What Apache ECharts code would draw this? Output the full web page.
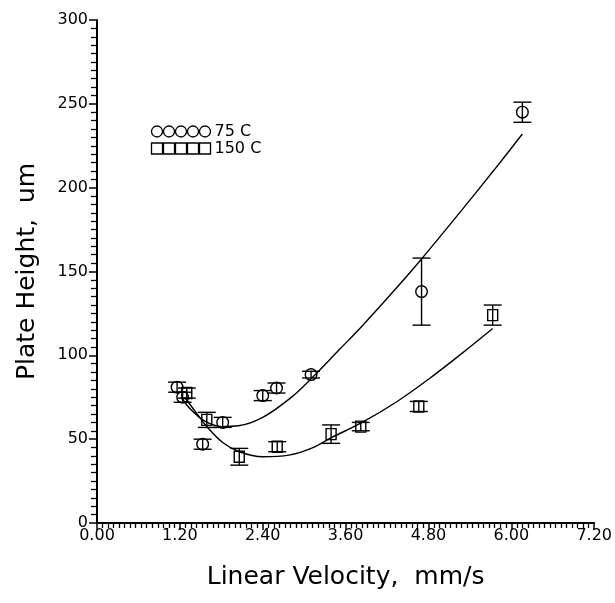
<!DOCTYPE html>
<html>
<head>
<meta charset="utf-8">
<script src="https://cdn.jsdelivr.net/npm/echarts@6/dist/echarts.min.js"></script>
<style>html,body{margin:0;padding:0;background:#fff;}#c{width:615px;height:603px;}</style>
</head>
<body>
<div id="c"></div>
<script>
// ---- data ----
const xTickLabels = ['0.00', '1.20', '2.40', '3.60', '4.80', '6.00', '7.20'];
const yTickLabels = ['0', '50', '100', '150', '200', '250', '300'];

// 75 C measurements (circles): x, y, error
const c75X   = [1.16, 1.24, 1.53, 1.82, 2.40, 2.60, 3.10, 4.70, 6.16];
const c75Y   = [81,   75,   47,   60,   76,   80.5, 88.5, 138,  245];
const c75Err = [3,    3,    3,    3,    3,    3,    2,    20,   6];

// 150 C measurements (squares): x, y, error
const c150X   = [1.30, 1.59, 2.06, 2.61, 3.39, 3.82, 4.66, 5.73];
const c150Y   = [77.5, 61.5, 39.5, 45.5, 53,   57.5, 69.5, 124];
const c150Err = [3,    4.5,  5,    3,    5.5,  2.5,  3,    6];

// fitted curves
const fit75X  = [1.22, 1.35, 1.55, 1.80, 2.05, 2.40, 2.80, 3.10, 3.50, 3.85, 4.30, 4.70, 5.30, 5.75, 6.16];
const fit75Y  = [75,   68,   61,   57.5, 58,   63,   74.5, 86,   103,  118,  138.5, 157.5, 187.5, 210.5, 232];
const fit150X = [1.27, 1.45, 1.60, 1.82, 2.06, 2.40, 2.78, 3.10, 3.40, 3.84, 4.33, 4.81, 5.28, 5.73];
const fit150Y = [75,   65,   57,   48,   42.5, 39.5, 40.5, 44.5, 51,   60,   72,   86,   101,  116];

const names = ['75 C', '150 C'];

// ---- build ----
const zip3 = (a, b, c) => a.map((v, i) => [v, b[i], c[i]]);
const zip2 = (a, b) => a.map((v, i) => [v, b[i]]);

function makeRender(shape) {
  return function (params, api) {
    const x = api.value(0), y = api.value(1), e = api.value(2);
    const p = api.coord([x, y]);
    const top = api.coord([x, y + e]);
    const bot = api.coord([x, y - e]);
    const cap = 9;
    const st = { stroke: '#000', lineWidth: 1.4, fill: null };
    const children = [
      { type: 'line', shape: { x1: p[0], y1: top[1], x2: p[0], y2: bot[1] }, style: st },
      { type: 'line', shape: { x1: p[0] - cap, y1: top[1], x2: p[0] + cap, y2: top[1] }, style: st },
      { type: 'line', shape: { x1: p[0] - cap, y1: bot[1], x2: p[0] + cap, y2: bot[1] }, style: st }
    ];
    if (shape === 'circle') {
      children.push({ type: 'circle', shape: { cx: p[0], cy: p[1], r: 5.8 }, style: { stroke: '#000', lineWidth: 1.4, fill: 'none' } });
    } else {
      children.push({ type: 'rect', shape: { x: p[0] - 5, y: p[1] - 5.5, width: 10, height: 11 }, style: { stroke: '#000', lineWidth: 1.4, fill: 'none' } });
    }
    return { type: 'group', children };
  };
}

let circPath = 'path://';
let sqPath = 'path://';
for (let i = 0; i < 5; i++) {
  circPath += 'M' + (12 * i) + ',5.5a5.5,5.5 0 1,0 11,0a5.5,5.5 0 1,0 -11,0';
  sqPath += 'M' + (12 * i) + ',0h11v11h-11z';
}

const chart = echarts.init(document.getElementById('c'), null, { renderer: 'canvas' });
const axisFont = 'DejaVu Sans';
chart.setOption({
  animation: false,
  backgroundColor: '#fff',
  grid: { left: 97, right: 19, top: 20, bottom: 80, containLabel: false },
  legend: {
    orient: 'vertical',
    left: 149, top: 123,
    padding: 0,
    itemWidth: 61, itemHeight: 11, itemGap: 0,
    textStyle: { color: '#000', fontSize: 16, lineHeight: 17, fontFamily: axisFont, padding: [0, 0, 0, -2] },
    itemStyle: { color: 'none', borderColor: '#000', borderWidth: 1.3 },
    data: [{ name: names[0], icon: circPath }, { name: names[1], icon: sqPath }]
  },
  xAxis: {
    type: 'value', min: 0, max: 7.2, interval: 1.2,
    name: 'Linear Velocity,  mm/s', nameLocation: 'middle', nameGap: 42,
    nameTextStyle: { color: '#000', fontSize: 25, fontFamily: axisFont },
    axisLine: { onZero: false, lineStyle: { color: '#000', width: 2 } },
    axisTick: { length: 7, lineStyle: { color: '#000', width: 1.5 } },
    minorTick: { show: true, splitNumber: 15, length: 5, lineStyle: { color: '#000', width: 1.3 } },
    splitLine: { show: false },
    axisLabel: { color: '#000', fontSize: 16, fontFamily: axisFont, margin: 5,
      formatter: (v) => xTickLabels[Math.round(v / 1.2)] }
  },
  yAxis: {
    type: 'value', min: 0, max: 300, interval: 50,
    name: 'Plate Height,  um', nameLocation: 'middle', nameGap: 57,
    nameTextStyle: { color: '#000', fontSize: 25, fontFamily: axisFont },
    axisLine: { show: true, onZero: false, lineStyle: { color: '#000', width: 2 } },
    axisTick: { show: true, length: 8, lineStyle: { color: '#000', width: 1.5 } },
    minorTick: { show: true, splitNumber: 10, length: 6, lineStyle: { color: '#000', width: 1.3 } },
    splitLine: { show: false },
    axisLabel: { color: '#000', fontSize: 16, fontFamily: axisFont, margin: 9,
      formatter: (v) => yTickLabels[Math.round(v / 50)] }
  },
  series: [
    { name: names[0], type: 'custom', renderItem: makeRender('circle'), data: zip3(c75X, c75Y, c75Err), z: 3,
      itemStyle: { color: 'none', borderColor: '#000' } },
    { name: names[1], type: 'custom', renderItem: makeRender('square'), data: zip3(c150X, c150Y, c150Err), z: 3,
      itemStyle: { color: 'none', borderColor: '#000' } },
    { name: 'fit75', type: 'line', data: zip2(fit75X, fit75Y), smooth: 0.35, showSymbol: false, symbol: 'none',
      lineStyle: { color: '#000', width: 1.4 }, z: 2 },
    { name: 'fit150', type: 'line', data: zip2(fit150X, fit150Y), smooth: 0.35, showSymbol: false, symbol: 'none',
      lineStyle: { color: '#000', width: 1.4 }, z: 2 }
  ]
});
</script>
</body>
</html>
